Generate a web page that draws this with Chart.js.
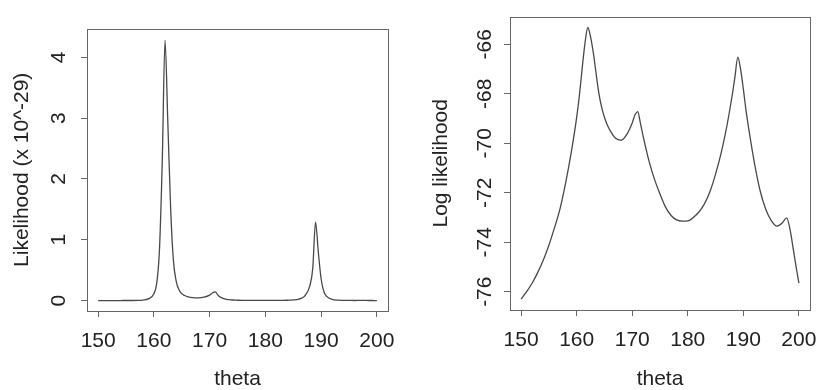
<!DOCTYPE html>
<html>
<head>
<meta charset="utf-8">
<script src="https://cdn.jsdelivr.net/npm/chart.js@4.4.1/dist/chart.umd.min.js"></script>
<style>
  html, body { margin: 0; padding: 0; background: #fff; }
  #wrap { display: flex; width: 820px; height: 390px; }
  canvas { display: block; }
</style>
</head>
<body>
<div id="wrap">
  <canvas id="likChart" width="410" height="390"></canvas>
  <canvas id="logChart" width="410" height="390"></canvas>
</div>
<script>
// theta grid (denser near the peaks)
const theta = [150, 151, 152, 153, 154, 155, 156, 157, 158, 159, 160, 160.5, 161, 161.5, 162, 162.5,
    163, 163.5, 164, 164.5, 165, 165.5, 166, 167, 168, 169, 170, 170.5, 171, 171.5, 172, 173, 174, 175,
    176, 177, 178, 179, 180, 181, 182, 183, 184, 185, 186, 187, 188, 188.5, 189, 189.5, 190, 190.5,
    191, 192, 193, 194, 195, 196, 197, 197.8, 198.5, 199, 199.5, 200];

// likelihood, in units of 10^-29
const likelihood = [0.000, 0.000, 0.000, 0.000, 0.000, 0.001, 0.001, 0.003, 0.008, 0.027, 0.113, 0.279,
    0.837, 2.28, 4.28, 2.93, 1.53, 0.66, 0.320, 0.177, 0.113, 0.083, 0.066, 0.048, 0.045, 0.056, 0.090,
    0.125, 0.143, 0.087, 0.051, 0.020, 0.009, 0.005, 0.003, 0.002, 0.002, 0.002, 0.002, 0.002, 0.003,
    0.003, 0.005, 0.010, 0.024, 0.068, 0.250, 0.528, 1.29, 0.795, 0.358, 0.145, 0.069, 0.018, 0.006,
    0.003, 0.002, 0.001, 0.002, 0.002, 0.001, 0.001, 0.000, 0.000];

// log likelihood
const logLik = [-76.30, -76.00, -75.65, -75.22, -74.72, -74.12, -73.42, -72.65, -71.62, -70.40, -68.95,
    -68.05, -66.95, -65.95, -65.32, -65.70, -66.35, -67.18, -67.98, -68.55, -68.95, -69.25, -69.48,
    -69.80, -69.88, -69.65, -69.18, -68.85, -68.72, -69.22, -69.75, -70.70, -71.45, -72.05, -72.58,
    -72.92, -73.10, -73.15, -73.14, -73.00, -72.78, -72.45, -71.95, -71.25, -70.40, -69.35, -68.05,
    -67.30, -66.52, -67.00, -67.80, -68.70, -69.45, -70.80, -71.90, -72.65, -73.12, -73.35, -73.22,
    -73.02, -73.60, -74.30, -75.00, -75.65];

// tick labels
const thetaTicks = [150, 160, 170, 180, 190, 200];
const likTicks = [0, 1, 2, 3, 4];
const logTicks = [-76, -74, -72, -70, -68, -66];

const FONT = '"Liberation Sans", Arial, Helvetica, sans-serif';
const TEXT = '#222';
const AXIS = '#666';

// draws the R-style box round the plot region
const boxPlugin = {
    id: 'box',
    afterDraw(chart) {
        const a = chart.chartArea;
        const ctx = chart.ctx;
        ctx.save();
        ctx.strokeStyle = AXIS;
        ctx.lineWidth = 1;
        ctx.strokeRect(Math.round(a.left) + 0.5, Math.round(a.top) + 0.5,
            Math.round(a.right - a.left), Math.round(a.bottom - a.top));
        ctx.restore();
    }
};

function makeChart(id, values, yTicks, yMin, yMax, yTitle, opts) {
    const points = theta.map((t, i) => ({ x: t, y: values[i] }));
    return new Chart(document.getElementById(id), {
        type: 'line',
        data: {
            datasets: [{
                data: points,
                borderColor: '#484848',
                borderWidth: 1.3,
                pointRadius: 0,
                cubicInterpolationMode: 'monotone',
                fill: false
            }]
        },
        options: {
            responsive: false,
            animation: false,
            events: [],
            layout: { padding: { top: 10, right: opts.right, left: 0, bottom: 0 } },
            plugins: { legend: { display: false }, tooltip: { enabled: false } },
            scales: {
                x: {
                    type: 'linear',
                    min: 148,
                    max: 202,
                    afterBuildTicks: s => { s.ticks = thetaTicks.map(v => ({ value: v })); },
                    afterFit: s => {
                        s.height = opts.xHeight;
                        // keep the end labels from squeezing the plot box
                        s.paddingLeft = 0;
                        s.paddingRight = 0;
                    },
                    grid: { drawOnChartArea: false, drawTicks: true, tickLength: 6, color: AXIS },
                    border: { display: false },
                    ticks: { color: TEXT, font: { family: FONT, size: 21 }, padding: 12, maxRotation: 0 },
                    title: { display: true, text: 'theta', color: TEXT, font: { family: FONT, size: 21 },
                        padding: { top: 0, bottom: -2 } }
                },
                y: {
                    type: 'linear',
                    min: yMin,
                    max: yMax,
                    afterBuildTicks: s => { s.ticks = yTicks.map(v => ({ value: v })); },
                    afterFit: s => { s.width = opts.yWidth; },
                    grid: { drawOnChartArea: false, drawTicks: true, tickLength: 6, color: AXIS },
                    border: { display: false },
                    ticks: { color: TEXT, font: { family: FONT, size: 21 }, minRotation: 90, maxRotation: 90,
                        crossAlign: 'center', padding: opts.tickPad },
                    title: { display: true, text: yTitle, color: TEXT, font: { family: FONT, size: 21 },
                        padding: { top: opts.titlePad, bottom: 0 } }
                }
            }
        },
        plugins: [boxPlugin]
    });
}

makeChart('likChart', likelihood, likTicks, -0.172, 4.472, 'Likelihood (x 10^-29)',
    { right: 22, xHeight: 79, yWidth: 87, tickPad: 16, titlePad: 10 });
makeChart('logChart', logLik, logTicks, -76.74, -64.88, 'Log likelihood',
    { right: 10, xHeight: 80, yWidth: 100, tickPad: 4, titlePad: 19 });
</script>
</body>
</html>
